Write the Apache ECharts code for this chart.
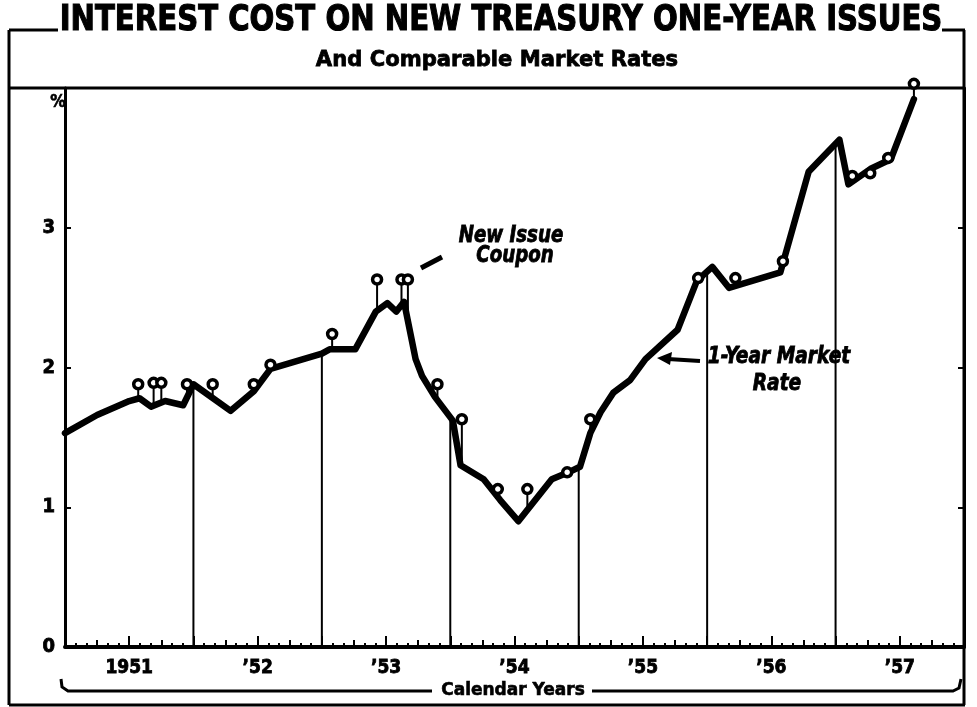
<!DOCTYPE html>
<html>
<head>
<meta charset="utf-8">
<script src="https://cdn.jsdelivr.net/npm/echarts@6/dist/echarts.min.js"></script>
<style>
  html, body { margin: 0; padding: 0; background: #fff; }
  #chart { width: 977px; height: 707px; }
</style>
</head>
<body>
<div id="chart"></div>
<script>
// 1-year market rate (year as decimal, percent)
const marketYears = [1951.00, 1951.25, 1951.50, 1951.58, 1951.67, 1951.78, 1951.92, 1952.00, 1952.29, 1952.47, 1952.60,
  1953.00, 1953.06, 1953.26, 1953.42, 1953.51, 1953.58, 1953.64, 1953.73, 1953.78, 1953.88, 1954.02, 1954.08,
  1954.26, 1954.39, 1954.53, 1954.66, 1954.79, 1954.92, 1955.01, 1955.09, 1955.17, 1955.27, 1955.40, 1955.52,
  1955.77, 1955.92, 1956.04, 1956.17, 1956.57, 1956.79, 1957.03, 1957.10, 1957.27, 1957.43, 1957.61]
const marketRates = [1.53, 1.66, 1.76, 1.78, 1.72, 1.76, 1.73, 1.88, 1.69, 1.83, 1.99,
  2.10, 2.13, 2.13, 2.40, 2.46, 2.40, 2.47, 2.06, 1.94, 1.79, 1.62, 1.30,
  1.20, 1.05, 0.90, 1.05, 1.20, 1.25, 1.29, 1.53, 1.68, 1.82, 1.91, 2.06,
  2.27, 2.62, 2.72, 2.57, 2.68, 3.40, 3.63, 3.31, 3.42, 3.49, 3.92]

// new issue coupons
const couponYears = [1951.57, 1951.69, 1951.75, 1951.95, 1952.15, 1952.47, 1952.60, 1953.08, 1953.43, 1953.62, 1953.67,
  1953.90, 1954.09, 1954.37, 1954.60, 1954.91, 1955.09, 1955.93, 1956.22, 1956.59, 1957.13, 1957.27, 1957.41, 1957.61]
const couponRates = [1.88, 1.89, 1.89, 1.88, 1.88, 1.88, 2.02, 2.24, 2.63, 2.63, 2.63,
  1.88, 1.63, 1.13, 1.13, 1.25, 1.63, 2.64, 2.64, 2.76, 3.37, 3.39, 3.50, 4.03]

const yearBounds = [1952, 1953, 1954, 1955, 1956, 1957]
const xLabels = ['1951', '\u201952', '\u201953', '\u201954', '\u201955', '\u201956', '\u201957']
const yLabels = ['0', '1', '2', '3', '']

// where the market line sits at a given year (for stems and year lines)
function rateAt (x) {
  for (let i = 0; i < marketYears.length - 1; i++) {
    if (x >= marketYears[i] && x <= marketYears[i + 1]) {
      let t = (x - marketYears[i]) / (marketYears[i + 1] - marketYears[i])
      return marketRates[i] + t * (marketRates[i + 1] - marketRates[i])
    }
  }
  return marketRates[marketRates.length - 1]
}

const HEAVY = "'DejaVu Sans', sans-serif"
const COND = "'DejaVu Sans Condensed', 'DejaVu Sans', sans-serif"

let myChart = echarts.init(document.getElementById('chart'))

function seg (x1, y1, x2, y2, w) {
  return { type: 'line', shape: { x1: x1, y1: y1, x2: x2, y2: y2 }, style: { stroke: '#000', lineWidth: w || 2 }, silent: true }
}
function txt (x, y, s, font, sx, bold) {
  return {
    type: 'text',
    x: x,
    y: y,
    scaleX: sx || 1,
    style: {
      text: s,
      font: font,
      fill: '#000',
      stroke: bold ? '#000' : null,
      lineWidth: bold || 0,
      textAlign: 'center',
      textVerticalAlign: 'middle'
    },
    silent: true
  }
}

let option = {
  backgroundColor: '#fff',
  animation: false,
  grid: { left: 65, right: 13, top: 88, bottom: 60 },
  xAxis: [{
    type: 'value',
    position: 'bottom',
    min: 1951,
    max: 1958,
    interval: 0.25,
    axisLine: { lineStyle: { color: '#000', width: 4 } },
    axisTick: { inside: true, length: 7, lineStyle: { color: '#000', width: 2 } },
    minorTick: { show: true, splitNumber: 3, length: 4, lineStyle: { color: '#000', width: 2 } },
    axisLabel: { show: false },
    splitLine: { show: false }
  }, {
    type: 'value',
    position: 'bottom',
    min: 1951,
    max: 1958,
    interval: 0.5,
    axisLine: { show: false },
    axisTick: { inside: true, length: 11, lineStyle: { color: '#000', width: 2 } },
    axisLabel: {
      show: true,
      margin: 12,
      color: '#000',
      fontFamily: COND,
      fontWeight: 'bold',
      fontSize: 19,
      textBorderColor: '#000',
      textBorderWidth: 0.8,
      showMinLabel: true,
      showMaxLabel: true,
      formatter: function (v) {
        let k = Math.round((v - 1951.5) * 2)
        if (k % 2 !== 0 || k < 0) return ''
        return xLabels[k / 2] || ''
      }
    },
    splitLine: { show: false }
  }],
  yAxis: [{
    type: 'value',
    min: 0,
    max: 4,
    interval: 1,
    axisLine: { show: true, lineStyle: { color: '#000', width: 3 } },
    axisTick: { show: true, inside: true, length: 6, lineStyle: { color: '#000', width: 2 } },
    axisLabel: {
      color: '#000',
      fontFamily: COND,
      fontWeight: 'bold',
      fontSize: 20,
      textBorderColor: '#000',
      textBorderWidth: 0.8,
      margin: 10,
      formatter: function (v) {
        return yLabels[v]
      }
    },
    splitLine: { show: false }
  }, {
    type: 'value',
    position: 'right',
    min: 0,
    max: 4,
    interval: 1,
    axisLine: { show: true, lineStyle: { color: '#000', width: 3 } },
    axisTick: { show: true, inside: true, length: 6, lineStyle: { color: '#000', width: 2 } },
    axisLabel: { show: false },
    splitLine: { show: false }
  }],
  series: [{
    name: '1-Year Market Rate',
    type: 'line',
    data: marketYears.map((x, i) => [x, marketRates[i]]),
    symbol: 'none',
    lineStyle: { color: '#000', width: 6.5, join: 'round', cap: 'round' },
    z: 3
  }, {
    name: 'year lines',
    type: 'custom',
    clip: false,
    data: yearBounds.map(x => [x]),
    renderItem: function (params, api) {
      let x = api.value(0)
      let p0 = api.coord([x, 0])
      let p1 = api.coord([x, rateAt(x)])
      return { type: 'line', shape: { x1: p0[0], y1: p0[1], x2: p1[0], y2: p1[1] }, style: { stroke: '#000', lineWidth: 2 } }
    },
    z: 2
  }, {
    name: 'stems',
    type: 'custom',
    clip: false,
    data: couponYears.map((x, i) => [x, couponRates[i]]),
    renderItem: function (params, api) {
      let x = api.value(0)
      let p0 = api.coord([x, api.value(1)])
      let p1 = api.coord([x, rateAt(x)])
      return { type: 'line', shape: { x1: p0[0], y1: p0[1], x2: p1[0], y2: p1[1] }, style: { stroke: '#000', lineWidth: 2 } }
    },
    z: 2
  }, {
    name: 'New Issue Coupon',
    type: 'scatter',
    clip: false,
    data: couponYears.map((x, i) => [x, couponRates[i]]),
    symbol: 'circle',
    symbolSize: 9,
    itemStyle: { color: '#fff', borderColor: '#000', borderWidth: 3.5, opacity: 1 },
    z: 5
  }],
  graphic: [
    // frame
    seg(9, 30, 58, 30, 3),
    seg(942, 30, 965, 30, 3),
    seg(9, 30, 9, 705, 3),
    seg(964, 30, 964, 705, 3),
    seg(9, 705, 965, 705, 3),
    seg(9, 88, 964, 88, 3),
    // titles
    txt(501, 21, 'INTEREST COST ON NEW TREASURY ONE-YEAR ISSUES', 'bold 36px ' + HEAVY, 0.81, 1.2),
    txt(497, 60, 'And Comparable Market Rates', 'bold 22px ' + HEAVY, 0.96, 0.8),
    // calendar years bracket
    { type: 'polyline', shape: { points: [[61, 679], [62, 687], [68, 691], [432, 691]] }, style: { stroke: '#000', lineWidth: 3, fill: null }, silent: true },
    { type: 'polyline', shape: { points: [[592, 691], [953, 691], [959, 688], [961, 679]] }, style: { stroke: '#000', lineWidth: 3, fill: null }, silent: true },
    txt(513, 691, 'Calendar Years', 'bold 17px ' + HEAVY, 1.0, 0.6),
    // annotations
    txt(511, 236, 'New Issue', 'italic bold 23px ' + COND, 0.88, 0.8),
    txt(515, 256, 'Coupon', 'italic bold 23px ' + COND, 0.88, 0.8),
    seg(421, 268, 442, 257, 5),
    txt(779, 357, '1-Year Market', 'italic bold 23px ' + COND, 0.9, 0.8),
    txt(777, 384, 'Rate', 'italic bold 23px ' + COND, 0.9, 0.8),
    seg(668, 359, 700, 361, 4),
    { type: 'polygon', shape: { points: [[657, 358], [672, 352], [670, 365]] }, style: { fill: '#000' }, silent: true },
    // percent sign at top of the scale
    txt(58, 103, '%', 'bold 17px ' + COND, 1, 0.6)
  ]
}

if (option && typeof option === 'object') {
  myChart.setOption(option, true)
}
</script>
</body>
</html>
